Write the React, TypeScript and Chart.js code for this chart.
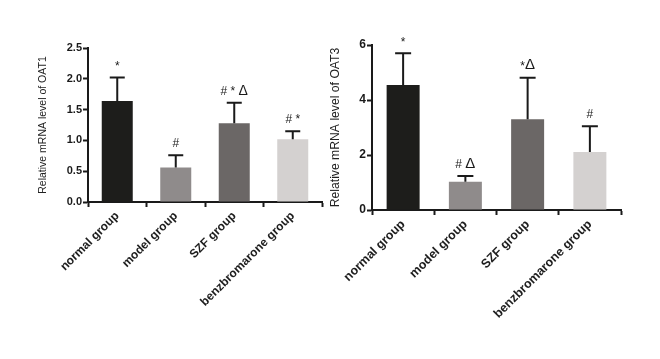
import React, { useEffect, useRef } from "react";
import { Chart, registerables } from "chart.js";

Chart.register(...registerables);

const categories = ["normal group", "model group", "SZF group", "benzbromarone group"];
const barColors = ["#1d1d1b", "#8f8b8b", "#6b6766", "#d4d1d0"];

const oat1Values = [1.64, 0.56, 1.28, 1.02];
const oat1Errors = [0.38, 0.2, 0.33, 0.13];
const oat1Marks = ["*", "#", "# * Δ", "# *"];
const oat1Ticks = { min: 0, max: 2.5, step: 0.5, decimals: 1 };

const oat3Values = [4.55, 1.03, 3.3, 2.11];
const oat3Errors = [1.15, 0.21, 1.51, 0.94];
const oat3Marks = ["*", "# Δ", "*Δ", "#"];
const oat3Ticks = { min: 0, max: 6, step: 2, decimals: 0 };

type PanelProps = {
  values: number[];
  errors: number[];
  marks: string[];
  ticks: { min: number; max: number; step: number; decimals: number };
  title: string;
  yWidth: number;
  xHeight: number;
  padTop: number;
  padRight: number;
  titleSize: number;
  titlePad: number;
  tickSize: number;
  labelSize: number;
  capHalf: number;
  deltaSize: number;
};

function Panel(p: PanelProps) {
  const ref = useRef<HTMLCanvasElement | null>(null);
  useEffect(() => {
    if (!ref.current) return;
    const fam = "'Liberation Sans', Arial, sans-serif";
    const fontFor = (ch: string) => (ch === "Δ" ? `${p.deltaSize}px ${fam}` : `12px ${fam}`);
    const errPlugin = {
      id: "errbars",
      afterDatasetsDraw(chart: any) {
        const ctx = chart.ctx;
        const meta = chart.getDatasetMeta(0);
        const ys = chart.scales.y;
        ctx.save();
        meta.data.forEach((bar: any, i: number) => {
          const x = bar.x;
          const yv = ys.getPixelForValue(p.values[i]);
          const yt = ys.getPixelForValue(p.values[i] + p.errors[i]);
          ctx.strokeStyle = "#1a1a1a";
          ctx.lineWidth = 2;
          ctx.beginPath();
          ctx.moveTo(x, yv);
          ctx.lineTo(x, yt);
          ctx.moveTo(x - p.capHalf, yt);
          ctx.lineTo(x + p.capHalf, yt);
          ctx.stroke();
          ctx.fillStyle = "#1a1a1a";
          ctx.textAlign = "left";
          ctx.textBaseline = "bottom";
          const chars = Array.from(p.marks[i]);
          let total = 0;
          const widths = chars.map((ch) => {
            ctx.font = fontFor(ch);
            const w = ctx.measureText(ch).width;
            total += w;
            return w;
          });
          let cx = x - total / 2;
          chars.forEach((ch, k) => {
            ctx.font = fontFor(ch);
            ctx.fillText(ch, cx, yt - 5);
            cx += widths[k];
          });
        });
        ctx.restore();
      },
    };
    const chart = new Chart(ref.current, {
      type: "bar",
      data: {
        labels: categories,
        datasets: [
          {
            data: p.values,
            backgroundColor: barColors,
            borderWidth: 0,
            barPercentage: 0.53,
            categoryPercentage: 1,
          },
        ],
      },
      options: {
        responsive: false,
        animation: false,
        devicePixelRatio: 1,
        layout: { padding: { top: p.padTop, right: p.padRight, left: 0, bottom: 0 } },
        plugins: { legend: { display: false }, tooltip: { enabled: false } },
        scales: {
          x: {
            grid: { drawOnChartArea: false, drawTicks: true, tickLength: 5, tickColor: "#1a1a1a", tickWidth: 2 },
            border: { color: "#1a1a1a", width: 2 },
            ticks: {
              minRotation: 45,
              maxRotation: 45,
              padding: 2,
              color: "#1e1e1e",
              font: { family: fam, size: p.labelSize, weight: "bold" },
            },
            afterFit(scale: any) {
              scale.height = p.xHeight;
            },
          },
          y: {
            min: p.ticks.min,
            max: p.ticks.max,
            grid: { drawOnChartArea: false, drawTicks: true, tickLength: 5, tickColor: "#1a1a1a", tickWidth: 2 },
            border: { color: "#1a1a1a", width: 2 },
            ticks: {
              stepSize: p.ticks.step,
              padding: 1,
              color: "#1a1a1a",
              font: { family: fam, size: p.tickSize, weight: "bold" },
              callback: (v: any) => Number(v).toFixed(p.ticks.decimals),
            },
            title: {
              display: true,
              text: p.title,
              color: "#222",
              padding: { top: p.titlePad, bottom: 0 },
              font: { family: fam, size: p.titleSize, lineHeight: 1 },
            },
            afterFit(scale: any) {
              scale.width = p.yWidth;
            },
          },
        },
      },
      plugins: [errPlugin],
    } as any);
    return () => chart.destroy();
  }, []);
  return <canvas ref={ref} width={330} height={359} style={{ display: "block", width: 330, height: 359 }} />;
}

export default function App() {
  return (
    <div style={{ position: "absolute", left: 0, top: 0, width: 660, height: 359, background: "#fff", display: "flex" }}>
      <Panel
        values={oat1Values}
        errors={oat1Errors}
        marks={oat1Marks}
        ticks={oat1Ticks}
        title="Relative mRNA level of OAT1"
        yWidth={88}
        xHeight={157}
        padTop={48}
        padRight={8}
        titleSize={10.5}
        titlePad={38}
        tickSize={11}
        labelSize={12}
        capHalf={7.5}
        deltaSize={14}
      />
      <Panel
        values={oat3Values}
        errors={oat3Errors}
        marks={oat3Marks}
        ticks={oat3Ticks}
        title="Relative mRNA level of OAT3"
        yWidth={42}
        xHeight={149}
        padTop={45}
        padRight={39}
        titleSize={12.2}
        titlePad={0}
        tickSize={12}
        labelSize={12.5}
        capHalf={8}
        deltaSize={15}
      />
    </div>
  );
}
